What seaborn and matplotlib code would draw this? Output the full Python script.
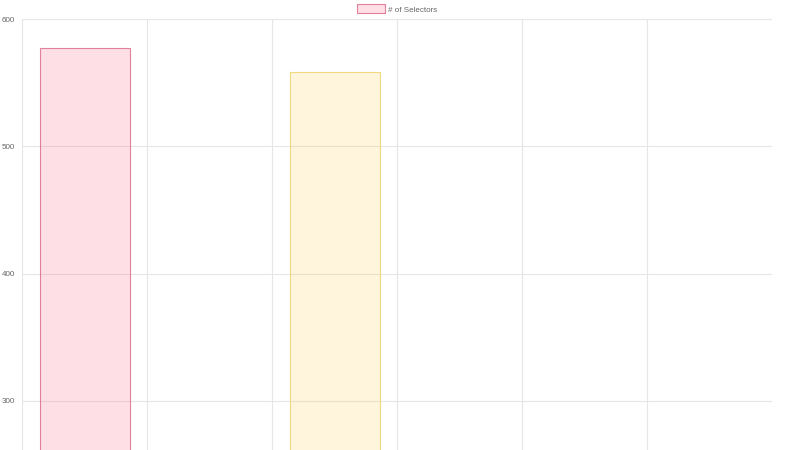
import matplotlib
matplotlib.use("Agg")
import matplotlib.pyplot as plt
import seaborn as sns
import pandas as pd
from matplotlib.patches import Patch

categories = ["A", "B", "C", "D", "E", "F"]
values = [577, 250, 558, 250, 250, 250]
fills = [(1.0, 0.388, 0.518, 0.2), (0.212, 0.635, 0.922, 0.2), (1.0, 0.808, 0.337, 0.2),
         (0.294, 0.753, 0.753, 0.2), (0.6, 0.4, 1.0, 0.2), (1.0, 0.624, 0.251, 0.2)]
edges = [(0.88, 0.5, 0.6), (0.4, 0.65, 0.88), (0.95, 0.85, 0.5),
         (0.45, 0.75, 0.75), (0.65, 0.5, 0.95), (0.95, 0.7, 0.45)]
legend_label = "# of Selectors"
yticks = [300, 400, 500, 600]

sns.set_style("white")
plt.rcParams['font.family'] = ['Liberation Sans', 'DejaVu Sans']

df = pd.DataFrame({"cat": categories, "val": values})
fig = plt.figure(figsize=(8, 4.5), dpi=100)
ax = fig.add_axes([22/800, 0, 750/800, (450-19)/450])
sns.barplot(data=df, x="cat", y="val", hue="cat", palette=fills, width=0.72,
            legend=False, ax=ax, saturation=1)
for p, ec in zip(ax.patches, edges):
    p.set_edgecolor(ec)
    p.set_linewidth(0.8)

ax.set_xlim(-0.5, 5.5)
ax.set_ylim(261.5, 600)
ax.set_yticks(yticks)
ax.set_yticklabels([str(t) for t in yticks], fontsize=5.8, color="#666666")
ax.set_xticks([])
ax.set_xlabel("")
ax.set_ylabel("")
grid_c = "#e6e6e6"
for y in yticks:
    ax.axhline(y, color=grid_c, lw=0.8, zorder=0)
for x in [0.5, 1.5, 2.5, 3.5, 4.5]:
    ax.axvline(x, color=grid_c, lw=0.8, zorder=0)
for s in ["top", "right", "bottom"]:
    ax.spines[s].set_visible(False)
ax.spines["left"].set_color(grid_c)
ax.spines["left"].set_linewidth(0.8)
ax.tick_params(axis="y", length=4, color=grid_c, width=0.8, pad=1)

handle = Patch(facecolor=fills[0], edgecolor=edges[0], linewidth=0.8)
fig.legend([handle], [legend_label], loc="center", bbox_to_anchor=(397/800, 1 - 9/450),
           frameon=False, fontsize=5.8, labelcolor="#666666", handlelength=3.5,
           handleheight=1.3, handletextpad=0.4)

fig.savefig("out.png", dpi=100)
